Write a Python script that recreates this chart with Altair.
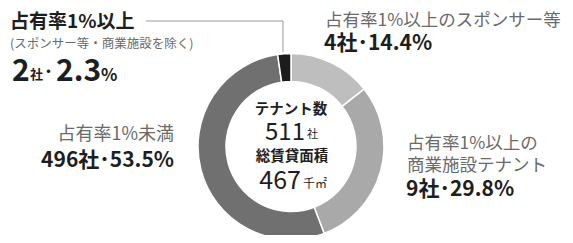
import altair as alt
import pandas as pd

# data
segments = ["占有率1%以上のスポンサー等", "占有率1%以上の商業施設テナント", "占有率1%未満", "占有率1%以上(その他)"]
shares = [14.4, 29.8, 53.5, 2.3]
companies = [4, 9, 496, 2]
seg_colors = ["#bebebe", "#a9a9a9", "#707070", "#1c1c1c"]
tenants_total = 511
floor_area = 467

df = pd.DataFrame({"segment": segments, "share": shares, "companies": companies,
                   "idx": list(range(len(segments)))})

OX, OY = 8, 8  # page margin offset
FONT = "Noto Sans CJK JP"
DOT = "･"

cx, cy = 291 - OX, 146.5 - OY

arc = alt.Chart(df).mark_arc(
    outerRadius=93, innerRadius=65, stroke="white", strokeWidth=1.5
).encode(
    theta=alt.Theta("share:Q", stack=True),
    order=alt.Order("idx:Q"),
    color=alt.Color("segment:N", scale=alt.Scale(domain=segments, range=seg_colors), legend=None),
    x=alt.value(cx), y=alt.value(cy),
)

base = alt.Chart(pd.DataFrame({"a": [0]}))

def txt(text, x, y, size, weight="normal", color="#222", align="left", baseline="middle"):
    return base.mark_text(
        text=text, font=FONT, fontSize=size, fontWeight=weight, color=color,
        align=align, baseline=baseline
    ).encode(x=alt.value(x - OX), y=alt.value(y - OY))

gray = "#6a6a6a"
dark = "#1e1e1e"

layers = [arc]

# leader line
line_col = "#9a9a9a"
layers.append(base.mark_rule(color=line_col, strokeWidth=1).encode(
    x=alt.value(146 - OX), x2=alt.value(283 - OX), y=alt.value(21 - OY)))
layers.append(base.mark_rule(color=line_col, strokeWidth=1).encode(
    x=alt.value(283 - OX), y=alt.value(21 - OY), y2=alt.value(52 - OY)))

# top-left
layers.append(txt("占有率1%以上", 10, 22, 19, "bold", dark))
layers.append(txt("(スポンサー等・商業施設を除く)", 10, 44, 12.5, "normal", gray))
layers.append(txt(str(companies[3]), 12, 72, 30, "bold", dark))
layers.append(txt("社", 30, 75, 13, "bold", dark))
layers.append(txt(DOT, 44, 73, 18, "bold", dark))
layers.append(txt(f"{shares[3]}", 56, 72, 30, "bold", dark))
layers.append(txt("%", 101, 76, 17, "bold", dark))

# top-right
layers.append(txt(segments[0], 325, 21, 17.5, "normal", gray))
layers.append(txt(f"{companies[0]}社{DOT}{shares[0]}%", 324, 44, 21, "bold", dark))

# left middle
layers.append(txt(segments[2], 174, 135, 18, "normal", gray, align="right"))
layers.append(txt(f"{companies[2]}社{DOT}{shares[2]}%", 174, 161, 21, "bold", dark, align="right"))

# right bottom
layers.append(txt("占有率1%以上の", 407, 144, 17.5, "normal", gray))
layers.append(txt("商業施設テナント", 407, 166, 17.5, "normal", gray))
layers.append(txt(f"{companies[1]}社{DOT}{shares[1]}%", 406, 190, 21, "bold", dark))

# center
layers.append(txt("テナント数", 291, 110, 14.5, "bold", dark, align="center"))
layers.append(txt(str(tenants_total), 305, 133, 24, "normal", dark, align="right"))
layers.append(txt("社", 307, 135, 11, "normal", dark))
layers.append(txt("総賃貸面積", 292, 157, 14.5, "bold", dark, align="center"))
layers.append(txt(str(floor_area), 301, 181, 25, "normal", dark, align="right"))
layers.append(txt("千㎡", 303, 184, 12, "normal", dark))

chart = alt.layer(*layers).properties(
    width=557, height=227,
    autosize=alt.AutoSizeParams(type="fit", contains="padding"),
    padding=0,
).configure_view(stroke=None)

chart.save("out.html", embed_options={"renderer": "svg", "actions": False})
